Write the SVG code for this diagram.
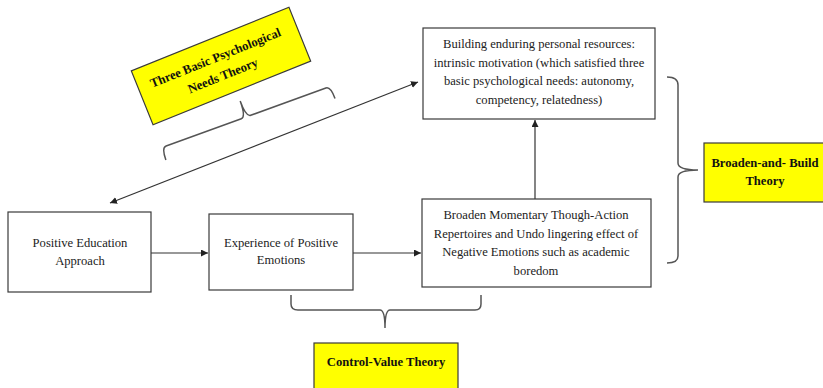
<svg xmlns="http://www.w3.org/2000/svg" width="823" height="388" viewBox="0 0 823 388">
<defs>
<style>
.box{fill:#fff;stroke:#3a3a3a;stroke-width:1.2}
.lbl{fill:#ffff00;stroke:#3a3a3a;stroke-width:1.2}
.t{font-family:"Liberation Serif","Times New Roman",serif;font-size:12.6px;fill:#222;text-anchor:middle}
.b{font-family:"Liberation Serif","Times New Roman",serif;font-size:12.6px;font-weight:bold;fill:#111;text-anchor:middle}
.ln{stroke:#333;stroke-width:1.2;fill:none}
.br{stroke:#555;stroke-width:1.5;fill:none}
</style>
<marker id="ah" viewBox="0 0 10 10" refX="10" refY="5" markerWidth="7" markerHeight="7" orient="auto-start-reverse" markerUnits="userSpaceOnUse">
<path d="M0,0 L10,5 L0,10 z" fill="#222"/>
</marker>
</defs>
<rect width="823" height="388" fill="#fff"/>

<g id="connectors">
<line class="ln" x1="151" y1="253" x2="208" y2="253" marker-end="url(#ah)"/>
<line class="ln" x1="353" y1="253" x2="421" y2="253" marker-end="url(#ah)"/>
<line class="ln" x1="535" y1="199" x2="535" y2="120" marker-end="url(#ah)"/>
<line class="ln" x1="110" y1="203" x2="418" y2="82" marker-start="url(#ah)" marker-end="url(#ah)"/>
</g>

<g id="braces">
<path class="br" transform="translate(246,117) rotate(-20)" d="M-90,13 Q-90,0 -85,0 L-5,0 Q0,0 0,-17 Q0,0 5,0 L85,0 Q90,0 90,13"/>
<path class="br" d="M667,77 Q678,77 678,85 L678,163 Q678,170 698,170 Q678,170 678,177 L678,256 Q678,263 667,263"/>
<path class="br" d="M291,295 L291,304 Q291,310 298,310 L380,310 Q385,310 385,328 Q385,310 390,310 L475,310 Q481,310 481,304 L481,295"/>
</g>

<g id="positive-education">
<rect class="box" x="8" y="212" width="143" height="80"/>
<text class="t" x="80" y="247">Positive Education</text>
<text class="t" x="80" y="265">Approach</text>
</g>

<g id="experience">
<rect class="box" x="209" y="214" width="144" height="76"/>
<text class="t" x="281" y="247">Experience of Positive</text>
<text class="t" x="281" y="264">Emotions</text>
</g>

<g id="broaden">
<rect class="box" x="422" y="199" width="229" height="88"/>
<text class="t" x="536" y="219">Broaden Momentary Though-Action</text>
<text class="t" x="536" y="237.5">Repertoires and Undo lingering effect of</text>
<text class="t" x="536" y="256">Negative Emotions such as academic</text>
<text class="t" x="536" y="274.5">boredom</text>
</g>

<g id="building">
<rect class="box" x="423" y="28" width="232" height="91"/>
<text class="t" x="539" y="48">Building enduring personal resources:</text>
<text class="t" x="539" y="66.5">intrinsic motivation (which satisfied three</text>
<text class="t" x="539" y="85">basic psychological needs: autonomy,</text>
<text class="t" x="539" y="103.5">competency, relatedness)</text>
</g>

<g id="three-basic-needs" transform="translate(221,66) rotate(-22)">
<rect class="lbl" x="-85" y="-29" width="170" height="58"/>
<text class="b" x="-2" y="-5.5">Three Basic Psychological</text>
<text class="b" x="-2" y="13.8">Needs Theory</text>
</g>

<g id="broaden-and-build">
<rect class="lbl" x="704" y="143" width="130" height="59"/>
<text class="b" x="765" y="166.5">Broaden-and- Build</text>
<text class="b" x="765" y="184.5">Theory</text>
</g>

<g id="control-value">
<rect class="lbl" x="314" y="343" width="144" height="55"/>
<text class="b" x="386" y="366">Control-Value Theory</text>
</g>
</svg>
